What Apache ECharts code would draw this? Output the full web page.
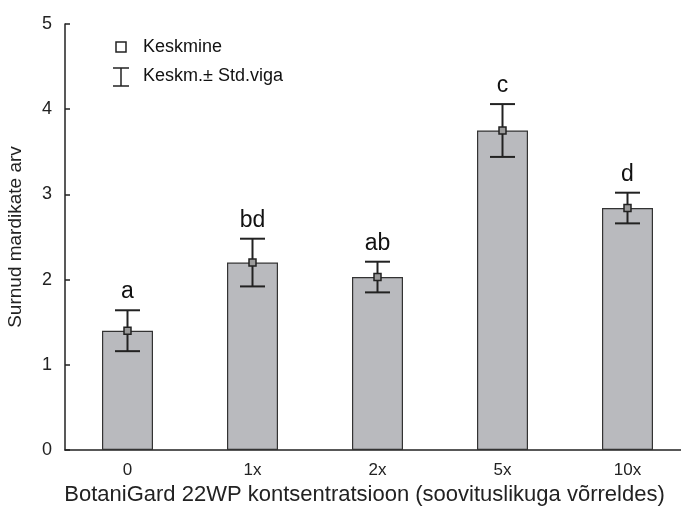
<!DOCTYPE html>
<html>
<head>
<meta charset="utf-8">
<script src="https://cdn.jsdelivr.net/npm/echarts@6/dist/echarts.min.js"></script>
<style>html,body{margin:0;padding:0;background:#fff}#c{width:681px;height:512px}</style>
</head>
<body>
<div id="c"></div>
<script>
var categories = ['0', '1x', '2x', '5x', '10x'];
var means = [1.40, 2.20, 2.03, 3.75, 2.84];
var stdErr = [0.24, 0.28, 0.18, 0.31, 0.18];
var groupLetters = ['a', 'bd', 'ab', 'c', 'd'];
var yTicks = [0, 1, 2, 3, 4, 5];

var FONT = '"Liberation Sans", Arial, sans-serif';
var INK = '#222';

var chart = echarts.init(document.getElementById('c'));
var errData = categories.map(function (c, i) { return [i, means[i], means[i] - stdErr[i], means[i] + stdErr[i], groupLetters[i]]; });

chart.setOption({
  animation: false,
  grid: { left: 65, top: 24, right: -9, bottom: 62, containLabel: false, outerBoundsMode: 'none' },
  xAxis: {
    type: 'category', data: categories,
    axisLine: { lineStyle: { color: INK, width: 1.5 } },
    axisTick: { show: false },
    axisLabel: { color: INK, fontFamily: FONT, fontSize: 17, margin: 12 },
    name: 'BotaniGard 22WP kontsentratsioon (soovituslikuga võrreldes)',
    nameLocation: 'middle', nameGap: 31,
    nameTextStyle: { color: INK, fontFamily: FONT, fontSize: 22, padding: [0, 26, 0, 0] }
  },
  yAxis: {
    type: 'value', min: yTicks[0], max: yTicks[yTicks.length - 1], interval: 1,
    axisLine: { show: true, lineStyle: { color: INK, width: 1.5 } },
    axisTick: { show: true, inside: true, length: 5, lineStyle: { color: INK, width: 1.5 } },
    splitLine: { show: false },
    axisLabel: { color: INK, fontFamily: FONT, fontSize: 18, margin: 13 },
    name: 'Surnud mardikate arv', nameLocation: 'middle', nameGap: 40,
    nameTextStyle: { color: INK, fontFamily: FONT, fontSize: 19 }
  },
  series: [
    {
      type: 'bar', data: means, barWidth: 51,
      itemStyle: { color: '#b9babe', borderColor: '#333', borderWidth: 1.2 }
    },
    {
      type: 'custom', data: errData, z: 5,
      renderItem: function (params, api) {
        var x = api.value(0);
        var pm = api.coord([x, api.value(1)]);
        var pl = api.coord([x, api.value(2)]);
        var ph = api.coord([x, api.value(3)]);
        var hw = 12.5;
        var st = { stroke: INK, lineWidth: 2 };
        return {
          type: 'group', children: [
            { type: 'line', shape: { x1: pm[0], y1: pl[1], x2: pm[0], y2: ph[1] }, style: st },
            { type: 'line', shape: { x1: pm[0] - hw, y1: pl[1], x2: pm[0] + hw, y2: pl[1] }, style: st },
            { type: 'line', shape: { x1: pm[0] - hw, y1: ph[1], x2: pm[0] + hw, y2: ph[1] }, style: st },
            { type: 'rect', shape: { x: pm[0] - 3.5, y: pm[1] - 3.5, width: 7, height: 7 }, style: { fill: '#9a9a9a', stroke: INK, lineWidth: 1.5 } },
            { type: 'text', x: pm[0], y: ph[1] - 7, style: { text: api.value(4), fill: '#111', font: '23px ' + FONT, textAlign: 'center', textVerticalAlign: 'bottom' } }
          ]
        };
      }
    }
  ],
  graphic: [
    { type: 'rect', shape: { x: 116, y: 42, width: 10, height: 10 }, style: { fill: '#fff', stroke: INK, lineWidth: 1.5 } },
    { type: 'text', x: 143, y: 47, style: { text: 'Keskmine', fill: '#111', font: '18px ' + FONT, textVerticalAlign: 'middle' } },
    { type: 'line', shape: { x1: 121, y1: 68, x2: 121, y2: 86 }, style: { stroke: INK, lineWidth: 1.5 } },
    { type: 'line', shape: { x1: 113, y1: 68, x2: 129, y2: 68 }, style: { stroke: INK, lineWidth: 1.5 } },
    { type: 'line', shape: { x1: 113, y1: 86, x2: 129, y2: 86 }, style: { stroke: INK, lineWidth: 1.5 } },
    { type: 'text', x: 143, y: 76, style: { text: 'Keskm.± Std.viga', fill: '#111', font: '18px ' + FONT, textVerticalAlign: 'middle' } }
  ]
});
</script>
</body>
</html>
